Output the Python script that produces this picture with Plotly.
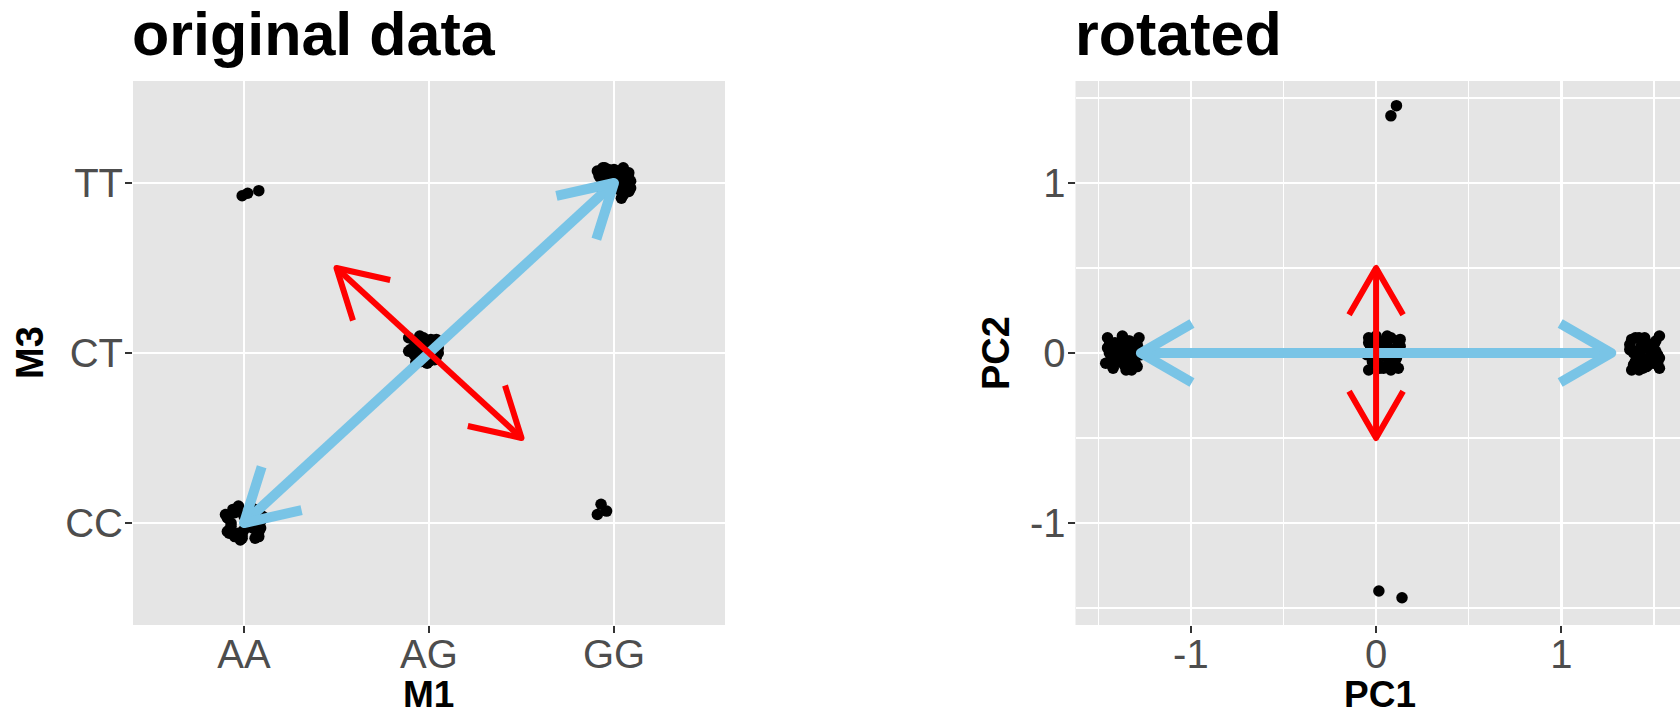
import math
import plotly.graph_objects as go

W, H = 1680, 716
FONT = "Liberation Sans, Arial, Helvetica, sans-serif"

# ---------------- original data (jittered genotype codes) ----------------
M1_LABELS = ["AA", "AG", "GG"]
M3_LABELS = ["CC", "CT", "TT"]

# AA / CC cluster
aa_cc_m1 = [0.91, 0.95, 1.02, 1.08, 0.93, 1.04, 1.09, 0.98, 0.90, 1.06, 1.00, 0.96,
            1.07, 0.92, 1.03, 1.10, 0.94, 1.05, 0.99, 1.09, 0.97, 1.01, 0.91, 1.06,
            0.93, 0.97, 1.01, 1.05, 1.09, 0.95, 0.99, 1.03, 1.07, 0.92, 1.00, 1.08]
aa_cc_m3 = [1.03, 0.92, 1.06, 0.95, 0.98, 1.09, 1.01, 0.90, 1.05, 0.91, 0.96, 1.07,
            0.93, 0.94, 0.99, 1.04, 1.08, 1.02, 0.91, 0.97, 1.10, 1.05, 0.95, 1.08,
            1.00, 0.94, 1.02, 0.97, 1.01, 1.06, 0.93, 1.08, 0.99, 0.96, 1.04, 0.92]
# AG / CT cluster
ag_ct_m1 = [1.89, 1.93, 1.97, 2.01, 2.04, 1.90, 1.95, 1.99, 2.03, 2.05, 1.92, 1.96,
            2.00, 2.02, 1.94, 1.98, 1.89, 2.04, 1.93, 2.01, 1.97, 1.95, 2.03, 1.99,
            1.91, 1.94, 1.98, 2.02, 2.05, 1.92, 1.96, 2.00, 2.04, 1.93, 1.97, 2.01]
ag_ct_m3 = [2.09, 1.95, 2.03, 2.08, 1.98, 2.02, 2.10, 1.94, 2.05, 2.00, 2.07, 1.95,
            2.04, 1.99, 2.08, 1.97, 2.01, 2.06, 1.94, 2.03, 2.09, 2.00, 1.96, 2.05,
            2.01, 2.06, 1.97, 2.00, 2.03, 1.99, 2.02, 1.95, 2.08, 2.04, 1.99, 2.07]
# GG / TT cluster
gg_tt_m1 = [2.91, 2.95, 3.00, 3.05, 3.08, 2.93, 2.98, 3.03, 3.09, 2.92, 2.97, 3.02,
            3.06, 3.08, 3.01, 3.05, 3.09, 3.04, 3.07, 2.94, 3.00, 2.96, 3.03, 3.06,
            2.92, 2.96, 3.00, 3.04, 3.07, 2.94, 2.99, 3.02, 3.05, 3.08, 2.97, 3.01]
gg_tt_m3 = [3.07, 3.09, 3.08, 3.09, 3.06, 3.03, 3.05, 3.02, 3.01, 2.98, 3.00, 3.04,
            2.99, 2.95, 2.97, 2.94, 2.97, 2.91, 3.02, 3.07, 3.06, 3.04, 2.96, 3.05,
            3.04, 3.08, 3.03, 3.07, 3.00, 3.09, 3.01, 3.06, 2.93, 3.03, 3.08, 2.98]
# discordant samples
aa_tt_m1 = [0.99, 1.02, 1.08]
aa_tt_m3 = [2.925, 2.94, 2.955]
gg_cc_m1 = [2.91, 2.93, 2.96]
gg_cc_m3 = [1.05, 1.11, 1.07]

# ---------------- rotated data (principal components) ----------------
pc_left_1 = [-1.45, -1.41, -1.37, -1.33, -1.29, -1.44, -1.40, -1.35, -1.31, -1.27, -1.43, -1.38,
             -1.34, -1.30, -1.28, -1.46, -1.42, -1.36, -1.32, -1.39, -1.44, -1.33, -1.29, -1.37,
             -1.44, -1.40, -1.36, -1.32, -1.28, -1.42, -1.38, -1.34, -1.30, -1.45, -1.35, -1.31]
pc_left_2 = [0.09, 0.06, 0.10, 0.07, 0.05, 0.02, 0.03, 0.01, 0.04, -0.01, -0.03, -0.02,
             -0.04, -0.01, 0.02, -0.06, -0.09, -0.07, -0.10, -0.05, 0.05, -0.06, -0.08, 0.08,
             0.00, -0.03, 0.06, -0.05, 0.09, -0.08, 0.00, 0.07, -0.06, 0.03, -0.10, 0.01]
pc_mid_1 = [-0.04, 0.00, 0.04, 0.08, 0.12, -0.03, 0.02, 0.06, 0.10, 0.13, -0.05, 0.01,
            0.05, 0.09, 0.11, -0.02, 0.03, 0.07, 0.12, -0.04, 0.04, 0.10, 0.00, 0.08,
            -0.03, 0.01, 0.05, 0.09, 0.12, -0.04, 0.02, 0.06, 0.10, 0.13, 0.03, 0.07]
pc_mid_2 = [0.09, 0.10, 0.07, 0.09, 0.06, 0.04, 0.03, 0.05, 0.02, 0.04, -0.01, 0.00,
            -0.02, 0.01, -0.03, -0.05, -0.08, -0.06, -0.09, -0.10, -0.09, -0.06, -0.04, -0.10,
            0.01, -0.02, 0.06, -0.04, 0.00, 0.06, -0.09, 0.10, -0.05, 0.08, 0.02, -0.01]
pc_right_1 = [1.38, 1.42, 1.46, 1.50, 1.53, 1.37, 1.41, 1.45, 1.49, 1.52, 1.39, 1.44,
              1.48, 1.51, 1.40, 1.43, 1.47, 1.53, 1.38, 1.46, 1.50, 1.42, 1.52, 1.48,
              1.37, 1.41, 1.45, 1.49, 1.53, 1.39, 1.43, 1.47, 1.51, 1.40, 1.44, 1.50]
pc_right_2 = [0.08, 0.09, 0.06, 0.05, 0.10, 0.02, 0.01, 0.03, 0.04, -0.01, 0.00, -0.03,
              -0.02, 0.01, -0.05, -0.06, -0.07, -0.09, -0.10, -0.08, -0.04, -0.10, -0.06, 0.03,
              0.05, -0.02, 0.09, 0.00, -0.03, -0.07, 0.04, -0.05, 0.07, 0.09, -0.09, -0.06]
pc_top_1 = [0.08, 0.11]
pc_top_2 = [1.395, 1.455]
pc_bottom_1 = [0.015, 0.14]
pc_bottom_2 = [-1.40, -1.44]

PC_TICKS = [-1, 0, 1]
PC_TICK_TEXT = ["-1", "0", "1"]

# ---------------- principal axes drawn as double arrows ----------------
orig_pc1_x, orig_pc1_y = [1.0, 3.0], [1.0, 3.0]
orig_pc2_x, orig_pc2_y = [1.5, 2.5], [2.5, 1.5]
rot_pc1_x, rot_pc1_y = [-1.27, 1.27], [0.0, 0.0]
rot_pc2_x, rot_pc2_y = [0.0, 0.0], [-0.5, 0.5]

# ---------------- layout geometry ----------------
MT, MB = 81, 91
PLOT_H = H - MT - MB
X1_DOM = [133 / W, 725 / W]
X2_DOM = [1075.5 / W, 1.0]
X1_RANGE = [0.4, 3.6]
Y1_RANGE = [0.4, 3.6]
X2_RANGE = [-1.623, 1.641]
Y2_RANGE = [-1.6, 1.6]


def px_scale(dom, rng, span):
    return (dom[1] - dom[0]) * span / (rng[1] - rng[0])


def double_arrow(xs, ys, sx, sy, head_px, angle_deg=30):
    """Shaft plus two open chevron heads, in data units."""
    px, py = [xs[0], xs[1], None], [ys[0], ys[1], None]
    for tip, tail in ((0, 1), (1, 0)):
        tx, ty = xs[tip], ys[tip]
        dx, dy = (xs[tail] - tx) * sx, (ys[tail] - ty) * sy
        n = math.hypot(dx, dy)
        ux, uy = dx / n, dy / n
        pts = []
        for a in (angle_deg, -angle_deg):
            r = math.radians(a)
            rx = ux * math.cos(r) - uy * math.sin(r)
            ry = ux * math.sin(r) + uy * math.cos(r)
            pts.append((tx + rx * head_px / sx, ty + ry * head_px / sy))
        px += [pts[0][0], tx, pts[1][0], None]
        py += [pts[0][1], ty, pts[1][1], None]
    return px, py


sx1 = px_scale(X1_DOM, X1_RANGE, W)
sy1 = px_scale([0, 1], Y1_RANGE, PLOT_H)
sx2 = px_scale(X2_DOM, X2_RANGE, W)
sy2 = px_scale([0, 1], Y2_RANGE, PLOT_H)

BLUE = "#79C4E6"
RED = "#FF0000"
PT = dict(color="black", size=11.5, line=dict(width=0))

fig = go.Figure()

# original data points
orig_x = aa_cc_m1 + ag_ct_m1 + gg_tt_m1 + aa_tt_m1 + gg_cc_m1
orig_y = aa_cc_m3 + ag_ct_m3 + gg_tt_m3 + aa_tt_m3 + gg_cc_m3
fig.add_trace(go.Scatter(x=orig_x, y=orig_y, mode="markers", marker=PT,
                         xaxis="x", yaxis="y", showlegend=False, hoverinfo="skip"))
ax, ay = double_arrow(orig_pc1_x, orig_pc1_y, sx1, sy1, 59)
fig.add_trace(go.Scatter(x=ax, y=ay, mode="lines", line=dict(color=BLUE, width=10),
                         xaxis="x", yaxis="y", showlegend=False, hoverinfo="skip"))
ax, ay = double_arrow(orig_pc2_x, orig_pc2_y, sx1, sy1, 55)
fig.add_trace(go.Scatter(x=ax, y=ay, mode="lines", line=dict(color=RED, width=6),
                         xaxis="x", yaxis="y", showlegend=False, hoverinfo="skip"))

# rotated data points
rot_x = pc_left_1 + pc_mid_1 + pc_right_1 + pc_top_1 + pc_bottom_1
rot_y = pc_left_2 + pc_mid_2 + pc_right_2 + pc_top_2 + pc_bottom_2
fig.add_trace(go.Scatter(x=rot_x, y=rot_y, mode="markers", marker=PT,
                         xaxis="x2", yaxis="y2", showlegend=False, hoverinfo="skip"))
ax, ay = double_arrow(rot_pc1_x, rot_pc1_y, sx2, sy2, 59)
fig.add_trace(go.Scatter(x=ax, y=ay, mode="lines", line=dict(color=BLUE, width=10),
                         xaxis="x2", yaxis="y2", showlegend=False, hoverinfo="skip"))
ax, ay = double_arrow(rot_pc2_x, rot_pc2_y, sx2, sy2, 54)
fig.add_trace(go.Scatter(x=ax, y=ay, mode="lines", line=dict(color=RED, width=6),
                         xaxis="x2", yaxis="y2", showlegend=False, hoverinfo="skip"))

axis_common = dict(
    ticks="outside", ticklen=7, tickwidth=2, tickcolor="#333333",
    tickfont=dict(family=FONT, size=40, color="#4D4D4D"),
    showgrid=True, gridcolor="white", gridwidth=2.6,
    zeroline=False, showline=False, fixedrange=True,
)
minor_grid = dict(tickmode="array", tickvals=[-1.5, -0.5, 0.5, 1.5], showgrid=True,
                  gridcolor="white", gridwidth=1.3, ticks="")
x_lab = dict(ticklabelstandoff=-13)
y_lab = dict(ticklabelstandoff=-6)

fig.update_layout(
    width=W, height=H,
    margin=dict(l=0, r=0, t=MT, b=MB),
    paper_bgcolor="white", plot_bgcolor="#E5E5E5",
    font=dict(family=FONT),
    xaxis=dict(domain=X1_DOM, range=X1_RANGE, anchor="y", tickmode="array",
               tickvals=[1, 2, 3], ticktext=M1_LABELS, **x_lab, **axis_common),
    yaxis=dict(domain=[0, 1], range=Y1_RANGE, anchor="x", tickmode="array",
               tickvals=[1, 2, 3], ticktext=M3_LABELS, **y_lab, **axis_common),
    xaxis2=dict(domain=X2_DOM, range=X2_RANGE, anchor="y2", tickmode="array",
                tickvals=PC_TICKS, ticktext=PC_TICK_TEXT, minor=minor_grid,
                **x_lab, **axis_common),
    yaxis2=dict(domain=[0, 1], range=Y2_RANGE, anchor="x2", tickmode="array",
                tickvals=PC_TICKS, ticktext=PC_TICK_TEXT, minor=minor_grid,
                **y_lab, **axis_common),
)


def ann(text, xpx, ypx, size, xanchor="center", yanchor="middle", angle=0):
    # positions given in page pixels, converted to paper units of the plot area
    fig.add_annotation(text=text, x=xpx / W, y=(H - MB - ypx) / PLOT_H,
                       xref="paper", yref="paper",
                       xanchor=xanchor, yanchor=yanchor, showarrow=False, textangle=angle,
                       font=dict(family=FONT, size=size, color="black"), borderpad=0)


ann("<b>original data</b>", 131, 34, 61, xanchor="left")
ann("<b>rotated</b>", 1074, 34, 61, xanchor="left")
ann("<b>M1</b>", 429, 716, 37, yanchor="bottom")
ann("<b>PC1</b>", 1380, 716, 37, yanchor="bottom")
ann("<b>M3</b>", 30, 353, 38, angle=-90)
ann("<b>PC2</b>", 996, 353, 38, angle=-90)

fig.write_html(
    "out.html",
    config={"staticPlot": True},
    post_script="document.querySelectorAll('.scatterlayer .js-line').forEach(function(p){p.style.strokeLinejoin='round';});",
)
